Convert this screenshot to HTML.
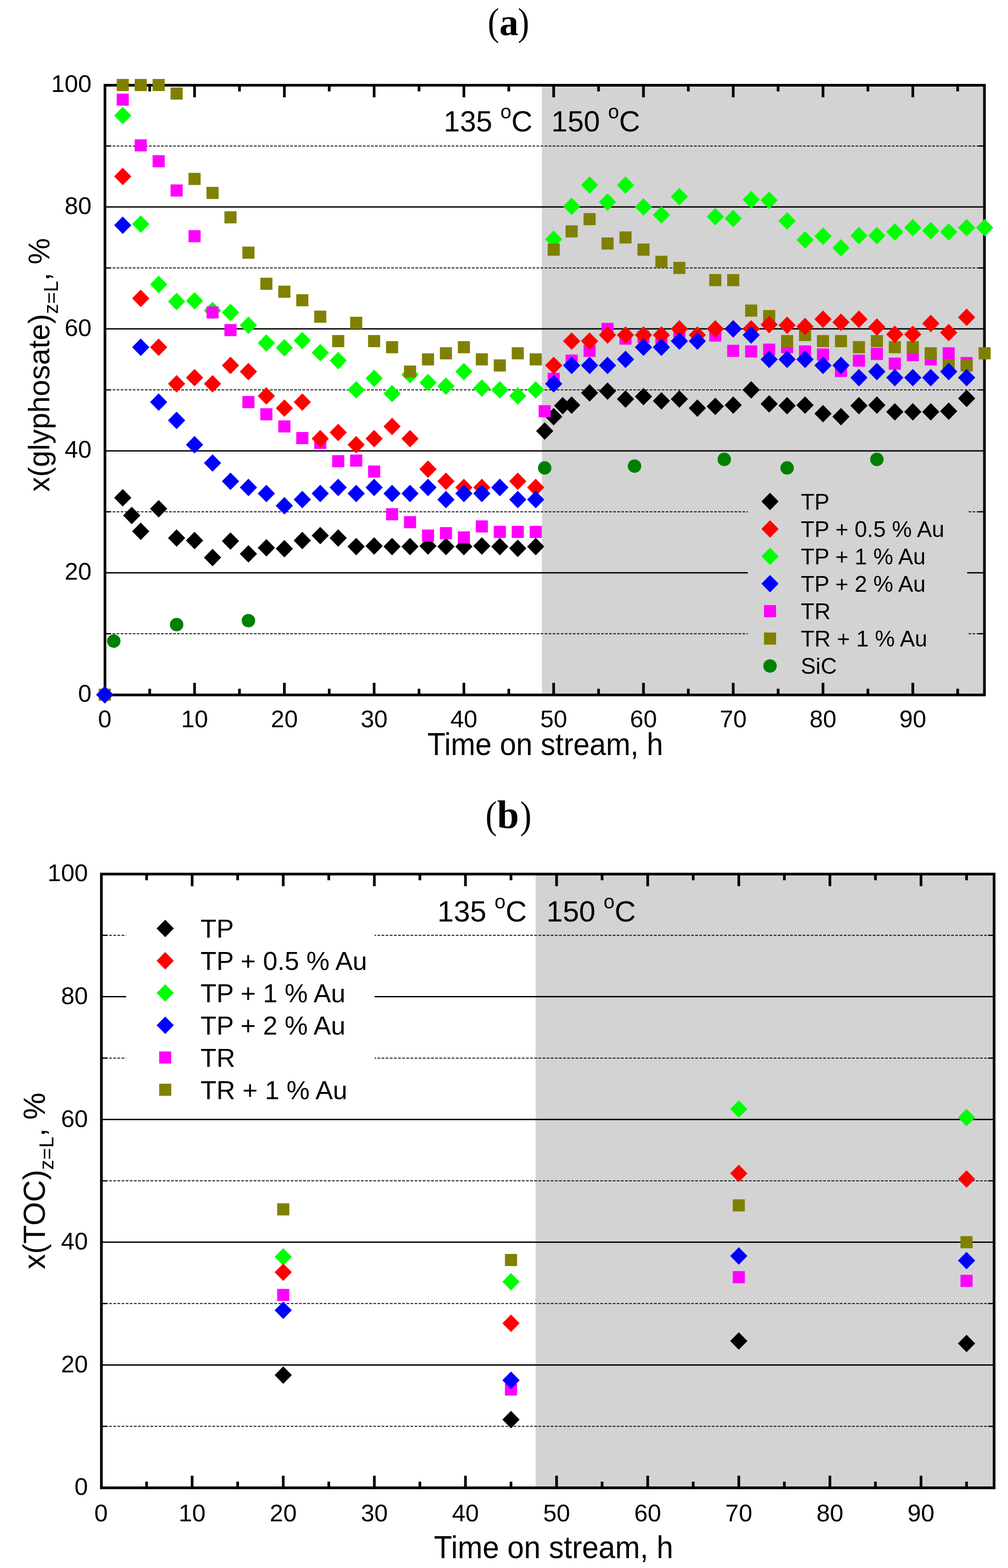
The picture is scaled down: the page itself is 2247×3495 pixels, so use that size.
<!DOCTYPE html>
<html><head><meta charset="utf-8"><title>Figure</title>
<style>html,body{margin:0;padding:0;background:#fff;}svg{display:block;}</style>
</head><body>
<svg width="2247" height="3495" viewBox="0 0 2247 3495" font-family='"Liberation Sans", Arial, Helvetica, sans-serif'>
<rect width="2247" height="3495" fill="#fff"/>
<g font-family='"Liberation Serif", "Times New Roman", serif' font-size="87" text-anchor="middle"><text transform="translate(1100,78) scale(0.88,1)">(</text><text x="1134.4" y="78" font-weight="bold" font-size="85">a</text><text transform="translate(1167,78) scale(0.88,1)">)</text></g>
<g font-family='"Liberation Serif", "Times New Roman", serif' font-size="87" text-anchor="middle"><text transform="translate(1095,1845.5) scale(0.88,1)">(</text><text x="1132.5" y="1845.5" font-weight="bold" font-size="88">b</text><text transform="translate(1172,1845.5) scale(0.88,1)">)</text></g>
<rect x="1208" y="190" width="986.5" height="1359" fill="#d3d3d3"/>
<line x1="233" y1="1412.6" x2="2194.5" y2="1412.6" stroke="#000" stroke-width="2" stroke-dasharray="6 3"/>
<line x1="234" y1="1412.6" x2="247.5" y2="1412.6" stroke="#000" stroke-width="2.8"/>
<line x1="2181.0" y1="1412.6" x2="2194.5" y2="1412.6" stroke="#000" stroke-width="2.8"/>
<line x1="234" y1="1276.7" x2="2194.5" y2="1276.7" stroke="#000" stroke-width="3"/>
<line x1="233" y1="1140.8" x2="2194.5" y2="1140.8" stroke="#000" stroke-width="2" stroke-dasharray="6 3"/>
<line x1="234" y1="1140.8" x2="247.5" y2="1140.8" stroke="#000" stroke-width="2.8"/>
<line x1="2181.0" y1="1140.8" x2="2194.5" y2="1140.8" stroke="#000" stroke-width="2.8"/>
<line x1="234" y1="1004.9" x2="2194.5" y2="1004.9" stroke="#000" stroke-width="3"/>
<line x1="233" y1="869.0" x2="2194.5" y2="869.0" stroke="#000" stroke-width="2" stroke-dasharray="6 3"/>
<line x1="234" y1="869.0" x2="247.5" y2="869.0" stroke="#000" stroke-width="2.8"/>
<line x1="2181.0" y1="869.0" x2="2194.5" y2="869.0" stroke="#000" stroke-width="2.8"/>
<line x1="234" y1="733.1" x2="2194.5" y2="733.1" stroke="#000" stroke-width="3"/>
<line x1="233" y1="597.2" x2="2194.5" y2="597.2" stroke="#000" stroke-width="2" stroke-dasharray="6 3"/>
<line x1="234" y1="597.2" x2="247.5" y2="597.2" stroke="#000" stroke-width="2.8"/>
<line x1="2181.0" y1="597.2" x2="2194.5" y2="597.2" stroke="#000" stroke-width="2.8"/>
<line x1="234" y1="461.3" x2="2194.5" y2="461.3" stroke="#000" stroke-width="3"/>
<line x1="233" y1="325.4" x2="2194.5" y2="325.4" stroke="#000" stroke-width="2" stroke-dasharray="6 3"/>
<line x1="234" y1="325.4" x2="247.5" y2="325.4" stroke="#000" stroke-width="2.8"/>
<line x1="2181.0" y1="325.4" x2="2194.5" y2="325.4" stroke="#000" stroke-width="2.8"/>
<rect x="1667" y="1075" width="489" height="445" fill="#d3d3d3"/>
<line x1="333.7" y1="190" x2="333.7" y2="203.8" stroke="#000" stroke-width="6"/>
<line x1="333.7" y1="1549" x2="333.7" y2="1535.2" stroke="#000" stroke-width="6"/>
<line x1="433.7" y1="190" x2="433.7" y2="217" stroke="#000" stroke-width="6"/>
<line x1="433.7" y1="1549" x2="433.7" y2="1522" stroke="#000" stroke-width="6"/>
<line x1="533.8" y1="190" x2="533.8" y2="203.8" stroke="#000" stroke-width="6"/>
<line x1="533.8" y1="1549" x2="533.8" y2="1535.2" stroke="#000" stroke-width="6"/>
<line x1="633.9" y1="190" x2="633.9" y2="217" stroke="#000" stroke-width="6"/>
<line x1="633.9" y1="1549" x2="633.9" y2="1522" stroke="#000" stroke-width="6"/>
<line x1="733.9" y1="190" x2="733.9" y2="203.8" stroke="#000" stroke-width="6"/>
<line x1="733.9" y1="1549" x2="733.9" y2="1535.2" stroke="#000" stroke-width="6"/>
<line x1="834.0" y1="190" x2="834.0" y2="217" stroke="#000" stroke-width="6"/>
<line x1="834.0" y1="1549" x2="834.0" y2="1522" stroke="#000" stroke-width="6"/>
<line x1="934.1" y1="190" x2="934.1" y2="203.8" stroke="#000" stroke-width="6"/>
<line x1="934.1" y1="1549" x2="934.1" y2="1535.2" stroke="#000" stroke-width="6"/>
<line x1="1034.1" y1="190" x2="1034.1" y2="217" stroke="#000" stroke-width="6"/>
<line x1="1034.1" y1="1549" x2="1034.1" y2="1522" stroke="#000" stroke-width="6"/>
<line x1="1134.2" y1="190" x2="1134.2" y2="203.8" stroke="#000" stroke-width="6"/>
<line x1="1134.2" y1="1549" x2="1134.2" y2="1535.2" stroke="#000" stroke-width="6"/>
<line x1="1234.2" y1="190" x2="1234.2" y2="217" stroke="#000" stroke-width="6"/>
<line x1="1234.2" y1="1549" x2="1234.2" y2="1522" stroke="#000" stroke-width="6"/>
<line x1="1334.3" y1="190" x2="1334.3" y2="203.8" stroke="#000" stroke-width="6"/>
<line x1="1334.3" y1="1549" x2="1334.3" y2="1535.2" stroke="#000" stroke-width="6"/>
<line x1="1434.4" y1="190" x2="1434.4" y2="217" stroke="#000" stroke-width="6"/>
<line x1="1434.4" y1="1549" x2="1434.4" y2="1522" stroke="#000" stroke-width="6"/>
<line x1="1534.4" y1="190" x2="1534.4" y2="203.8" stroke="#000" stroke-width="6"/>
<line x1="1534.4" y1="1549" x2="1534.4" y2="1535.2" stroke="#000" stroke-width="6"/>
<line x1="1634.5" y1="190" x2="1634.5" y2="217" stroke="#000" stroke-width="6"/>
<line x1="1634.5" y1="1549" x2="1634.5" y2="1522" stroke="#000" stroke-width="6"/>
<line x1="1734.6" y1="190" x2="1734.6" y2="203.8" stroke="#000" stroke-width="6"/>
<line x1="1734.6" y1="1549" x2="1734.6" y2="1535.2" stroke="#000" stroke-width="6"/>
<line x1="1834.6" y1="190" x2="1834.6" y2="217" stroke="#000" stroke-width="6"/>
<line x1="1834.6" y1="1549" x2="1834.6" y2="1522" stroke="#000" stroke-width="6"/>
<line x1="1934.7" y1="190" x2="1934.7" y2="203.8" stroke="#000" stroke-width="6"/>
<line x1="1934.7" y1="1549" x2="1934.7" y2="1535.2" stroke="#000" stroke-width="6"/>
<line x1="2034.8" y1="190" x2="2034.8" y2="217" stroke="#000" stroke-width="6"/>
<line x1="2034.8" y1="1549" x2="2034.8" y2="1522" stroke="#000" stroke-width="6"/>
<line x1="2134.8" y1="190" x2="2134.8" y2="203.8" stroke="#000" stroke-width="6"/>
<line x1="2134.8" y1="1549" x2="2134.8" y2="1535.2" stroke="#000" stroke-width="6"/>
<rect x="234" y="190" width="1960.5" height="1359" fill="none" stroke="#000" stroke-width="6"/>
<path d="M233.6 1529.0L252.8 1548.5L233.6 1568.0L214.4 1548.5Z" fill="#000000"/>
<path d="M273.6 1090.0L292.8 1109.5L273.6 1129.0L254.4 1109.5Z" fill="#000000"/>
<path d="M293.6 1129.5L312.8 1149.0L293.6 1168.5L274.4 1149.0Z" fill="#000000"/>
<path d="M313.7 1164.8L332.9 1184.3L313.7 1203.8L294.5 1184.3Z" fill="#000000"/>
<path d="M353.7 1114.5L372.9 1134.0L353.7 1153.5L334.5 1134.0Z" fill="#000000"/>
<path d="M393.7 1179.7L412.9 1199.2L393.7 1218.7L374.5 1199.2Z" fill="#000000"/>
<path d="M433.7 1185.2L452.9 1204.7L433.7 1224.2L414.5 1204.7Z" fill="#000000"/>
<path d="M473.8 1223.2L493.0 1242.7L473.8 1262.2L454.6 1242.7Z" fill="#000000"/>
<path d="M513.8 1186.5L533.0 1206.0L513.8 1225.5L494.6 1206.0Z" fill="#000000"/>
<path d="M553.8 1215.1L573.0 1234.6L553.8 1254.1L534.6 1234.6Z" fill="#000000"/>
<path d="M593.8 1201.5L613.0 1221.0L593.8 1240.5L574.6 1221.0Z" fill="#000000"/>
<path d="M633.9 1203.5L653.1 1223.0L633.9 1242.5L614.7 1223.0Z" fill="#000000"/>
<path d="M673.9 1185.2L693.1 1204.7L673.9 1224.2L654.7 1204.7Z" fill="#000000"/>
<path d="M713.9 1174.3L733.1 1193.8L713.9 1213.3L694.7 1193.8Z" fill="#000000"/>
<path d="M753.9 1179.7L773.1 1199.2L753.9 1218.7L734.7 1199.2Z" fill="#000000"/>
<path d="M794.0 1198.8L813.2 1218.3L794.0 1237.8L774.8 1218.3Z" fill="#000000"/>
<path d="M834.0 1197.4L853.2 1216.9L834.0 1236.4L814.8 1216.9Z" fill="#000000"/>
<path d="M874.0 1198.8L893.2 1218.3L874.0 1237.8L854.8 1218.3Z" fill="#000000"/>
<path d="M914.0 1198.8L933.2 1218.3L914.0 1237.8L894.8 1218.3Z" fill="#000000"/>
<path d="M954.1 1197.4L973.3 1216.9L954.1 1236.4L934.9 1216.9Z" fill="#000000"/>
<path d="M994.1 1198.8L1013.3 1218.3L994.1 1237.8L974.9 1218.3Z" fill="#000000"/>
<path d="M1034.1 1198.8L1053.3 1218.3L1034.1 1237.8L1014.9 1218.3Z" fill="#000000"/>
<path d="M1074.1 1197.4L1093.3 1216.9L1074.1 1236.4L1054.9 1216.9Z" fill="#000000"/>
<path d="M1114.2 1198.8L1133.4 1218.3L1114.2 1237.8L1095.0 1218.3Z" fill="#000000"/>
<path d="M1154.2 1202.8L1173.4 1222.3L1154.2 1241.8L1135.0 1222.3Z" fill="#000000"/>
<path d="M1194.2 1198.8L1213.4 1218.3L1194.2 1237.8L1175.0 1218.3Z" fill="#000000"/>
<path d="M1214.2 941.2L1233.4 960.7L1214.2 980.2L1195.0 960.7Z" fill="#000000"/>
<path d="M1234.2 909.3L1253.5 928.8L1234.2 948.3L1215.0 928.8Z" fill="#000000"/>
<path d="M1254.3 884.8L1273.5 904.3L1254.3 923.8L1235.1 904.3Z" fill="#000000"/>
<path d="M1274.3 883.5L1293.5 903.0L1274.3 922.5L1255.1 903.0Z" fill="#000000"/>
<path d="M1314.3 856.3L1333.5 875.8L1314.3 895.3L1295.1 875.8Z" fill="#000000"/>
<path d="M1354.3 852.2L1373.5 871.7L1354.3 891.2L1335.1 871.7Z" fill="#000000"/>
<path d="M1394.4 869.9L1413.6 889.4L1394.4 908.9L1375.2 889.4Z" fill="#000000"/>
<path d="M1434.4 864.4L1453.6 883.9L1434.4 903.4L1415.2 883.9Z" fill="#000000"/>
<path d="M1474.4 874.0L1493.6 893.5L1474.4 913.0L1455.2 893.5Z" fill="#000000"/>
<path d="M1514.4 869.9L1533.6 889.4L1514.4 908.9L1495.2 889.4Z" fill="#000000"/>
<path d="M1554.5 890.3L1573.7 909.8L1554.5 929.3L1535.3 909.8Z" fill="#000000"/>
<path d="M1594.5 886.2L1613.7 905.7L1594.5 925.2L1575.3 905.7Z" fill="#000000"/>
<path d="M1634.5 883.5L1653.7 903.0L1634.5 922.5L1615.3 903.0Z" fill="#000000"/>
<path d="M1674.5 849.5L1693.7 869.0L1674.5 888.5L1655.3 869.0Z" fill="#000000"/>
<path d="M1714.6 880.8L1733.8 900.3L1714.6 919.8L1695.4 900.3Z" fill="#000000"/>
<path d="M1754.6 884.8L1773.8 904.3L1754.6 923.8L1735.4 904.3Z" fill="#000000"/>
<path d="M1794.6 883.5L1813.8 903.0L1794.6 922.5L1775.4 903.0Z" fill="#000000"/>
<path d="M1834.6 902.5L1853.8 922.0L1834.6 941.5L1815.4 922.0Z" fill="#000000"/>
<path d="M1874.7 909.3L1893.9 928.8L1874.7 948.3L1855.5 928.8Z" fill="#000000"/>
<path d="M1914.7 884.8L1933.9 904.3L1914.7 923.8L1895.5 904.3Z" fill="#000000"/>
<path d="M1954.7 883.5L1973.9 903.0L1954.7 922.5L1935.5 903.0Z" fill="#000000"/>
<path d="M1994.7 898.4L2013.9 917.9L1994.7 937.4L1975.5 917.9Z" fill="#000000"/>
<path d="M2034.8 898.4L2054.0 917.9L2034.8 937.4L2015.6 917.9Z" fill="#000000"/>
<path d="M2074.8 898.4L2094.0 917.9L2074.8 937.4L2055.6 917.9Z" fill="#000000"/>
<path d="M2114.8 897.1L2134.0 916.6L2114.8 936.1L2095.6 916.6Z" fill="#000000"/>
<path d="M2154.8 868.5L2174.0 888.0L2154.8 907.5L2135.6 888.0Z" fill="#000000"/>
<path d="M233.6 1529.0L252.8 1548.5L233.6 1568.0L214.4 1548.5Z" fill="#00ff00"/>
<path d="M273.6 238.0L292.8 257.5L273.6 277.0L254.4 257.5Z" fill="#00ff00"/>
<path d="M313.7 479.9L332.9 499.4L313.7 518.9L294.5 499.4Z" fill="#00ff00"/>
<path d="M353.7 614.4L372.9 633.9L353.7 653.4L334.5 633.9Z" fill="#00ff00"/>
<path d="M393.7 652.4L412.9 671.9L393.7 691.4L374.5 671.9Z" fill="#00ff00"/>
<path d="M433.7 651.1L452.9 670.6L433.7 690.1L414.5 670.6Z" fill="#00ff00"/>
<path d="M473.8 672.8L493.0 692.3L473.8 711.8L454.6 692.3Z" fill="#00ff00"/>
<path d="M513.8 676.9L533.0 696.4L513.8 715.9L494.6 696.4Z" fill="#00ff00"/>
<path d="M553.8 705.4L573.0 724.9L553.8 744.4L534.6 724.9Z" fill="#00ff00"/>
<path d="M593.8 744.9L613.0 764.4L593.8 783.9L574.6 764.4Z" fill="#00ff00"/>
<path d="M633.9 755.7L653.1 775.2L633.9 794.7L614.7 775.2Z" fill="#00ff00"/>
<path d="M673.9 739.4L693.1 758.9L673.9 778.4L654.7 758.9Z" fill="#00ff00"/>
<path d="M713.9 766.6L733.1 786.1L713.9 805.6L694.7 786.1Z" fill="#00ff00"/>
<path d="M753.9 784.3L773.1 803.8L753.9 823.3L734.7 803.8Z" fill="#00ff00"/>
<path d="M794.0 849.5L813.2 869.0L794.0 888.5L774.8 869.0Z" fill="#00ff00"/>
<path d="M834.0 823.7L853.2 843.2L834.0 862.7L814.8 843.2Z" fill="#00ff00"/>
<path d="M874.0 857.7L893.2 877.2L874.0 896.7L854.8 877.2Z" fill="#00ff00"/>
<path d="M914.0 815.5L933.2 835.0L914.0 854.5L894.8 835.0Z" fill="#00ff00"/>
<path d="M954.1 833.2L973.3 852.7L954.1 872.2L934.9 852.7Z" fill="#00ff00"/>
<path d="M994.1 841.3L1013.3 860.8L994.1 880.3L974.9 860.8Z" fill="#00ff00"/>
<path d="M1034.1 808.7L1053.3 828.2L1034.1 847.7L1014.9 828.2Z" fill="#00ff00"/>
<path d="M1074.1 845.4L1093.3 864.9L1074.1 884.4L1054.9 864.9Z" fill="#00ff00"/>
<path d="M1114.2 849.5L1133.4 869.0L1114.2 888.5L1095.0 869.0Z" fill="#00ff00"/>
<path d="M1154.2 863.1L1173.4 882.6L1154.2 902.1L1135.0 882.6Z" fill="#00ff00"/>
<path d="M1194.2 849.5L1213.4 869.0L1194.2 888.5L1175.0 869.0Z" fill="#00ff00"/>
<path d="M1234.2 513.8L1253.5 533.3L1234.2 552.8L1215.0 533.3Z" fill="#00ff00"/>
<path d="M1274.3 440.4L1293.5 459.9L1274.3 479.4L1255.1 459.9Z" fill="#00ff00"/>
<path d="M1314.3 392.9L1333.5 412.4L1314.3 431.9L1295.1 412.4Z" fill="#00ff00"/>
<path d="M1354.3 430.9L1373.5 450.4L1354.3 469.9L1335.1 450.4Z" fill="#00ff00"/>
<path d="M1394.4 392.9L1413.6 412.4L1394.4 431.9L1375.2 412.4Z" fill="#00ff00"/>
<path d="M1434.4 441.8L1453.6 461.3L1434.4 480.8L1415.2 461.3Z" fill="#00ff00"/>
<path d="M1474.4 459.5L1493.6 479.0L1474.4 498.5L1455.2 479.0Z" fill="#00ff00"/>
<path d="M1514.4 418.7L1533.6 438.2L1514.4 457.7L1495.2 438.2Z" fill="#00ff00"/>
<path d="M1594.5 463.5L1613.7 483.0L1594.5 502.5L1575.3 483.0Z" fill="#00ff00"/>
<path d="M1634.5 467.6L1653.7 487.1L1634.5 506.6L1615.3 487.1Z" fill="#00ff00"/>
<path d="M1674.5 425.5L1693.7 445.0L1674.5 464.5L1655.3 445.0Z" fill="#00ff00"/>
<path d="M1714.6 426.9L1733.8 446.4L1714.6 465.9L1695.4 446.4Z" fill="#00ff00"/>
<path d="M1754.6 473.1L1773.8 492.6L1754.6 512.1L1735.4 492.6Z" fill="#00ff00"/>
<path d="M1794.6 515.2L1813.8 534.7L1794.6 554.2L1775.4 534.7Z" fill="#00ff00"/>
<path d="M1834.6 507.0L1853.8 526.5L1834.6 546.0L1815.4 526.5Z" fill="#00ff00"/>
<path d="M1874.7 532.9L1893.9 552.4L1874.7 571.9L1855.5 552.4Z" fill="#00ff00"/>
<path d="M1914.7 505.7L1933.9 525.2L1914.7 544.7L1895.5 525.2Z" fill="#00ff00"/>
<path d="M1954.7 505.7L1973.9 525.2L1954.7 544.7L1935.5 525.2Z" fill="#00ff00"/>
<path d="M1994.7 497.5L2013.9 517.0L1994.7 536.5L1975.5 517.0Z" fill="#00ff00"/>
<path d="M2034.8 488.0L2054.0 507.5L2034.8 527.0L2015.6 507.5Z" fill="#00ff00"/>
<path d="M2074.8 494.8L2094.0 514.3L2074.8 533.8L2055.6 514.3Z" fill="#00ff00"/>
<path d="M2114.8 497.5L2134.0 517.0L2114.8 536.5L2095.6 517.0Z" fill="#00ff00"/>
<path d="M2154.8 488.0L2174.0 507.5L2154.8 527.0L2135.6 507.5Z" fill="#00ff00"/>
<path d="M2194.9 488.0L2214.1 507.5L2194.9 527.0L2175.7 507.5Z" fill="#00ff00"/>
<rect x="220.1" y="1535.0" width="27.0" height="27.0" fill="#ff00ff"/>
<rect x="260.1" y="208.6" width="27.0" height="27.0" fill="#ff00ff"/>
<rect x="300.2" y="310.5" width="27.0" height="27.0" fill="#ff00ff"/>
<rect x="340.2" y="345.9" width="27.0" height="27.0" fill="#ff00ff"/>
<rect x="380.2" y="411.1" width="27.0" height="27.0" fill="#ff00ff"/>
<rect x="420.2" y="513.0" width="27.0" height="27.0" fill="#ff00ff"/>
<rect x="460.3" y="682.9" width="27.0" height="27.0" fill="#ff00ff"/>
<rect x="500.3" y="722.3" width="27.0" height="27.0" fill="#ff00ff"/>
<rect x="540.3" y="882.7" width="27.0" height="27.0" fill="#ff00ff"/>
<rect x="580.3" y="909.9" width="27.0" height="27.0" fill="#ff00ff"/>
<rect x="620.4" y="937.0" width="27.0" height="27.0" fill="#ff00ff"/>
<rect x="660.4" y="962.9" width="27.0" height="27.0" fill="#ff00ff"/>
<rect x="700.4" y="973.7" width="27.0" height="27.0" fill="#ff00ff"/>
<rect x="740.4" y="1014.5" width="27.0" height="27.0" fill="#ff00ff"/>
<rect x="780.5" y="1013.1" width="27.0" height="27.0" fill="#ff00ff"/>
<rect x="820.5" y="1037.6" width="27.0" height="27.0" fill="#ff00ff"/>
<rect x="860.5" y="1132.7" width="27.0" height="27.0" fill="#ff00ff"/>
<rect x="900.5" y="1150.4" width="27.0" height="27.0" fill="#ff00ff"/>
<rect x="940.6" y="1180.3" width="27.0" height="27.0" fill="#ff00ff"/>
<rect x="980.6" y="1174.9" width="27.0" height="27.0" fill="#ff00ff"/>
<rect x="1020.6" y="1184.4" width="27.0" height="27.0" fill="#ff00ff"/>
<rect x="1060.6" y="1159.9" width="27.0" height="27.0" fill="#ff00ff"/>
<rect x="1100.7" y="1172.1" width="27.0" height="27.0" fill="#ff00ff"/>
<rect x="1140.7" y="1172.1" width="27.0" height="27.0" fill="#ff00ff"/>
<rect x="1180.7" y="1172.1" width="27.0" height="27.0" fill="#ff00ff"/>
<rect x="1200.7" y="903.1" width="27.0" height="27.0" fill="#ff00ff"/>
<rect x="1220.8" y="831.0" width="27.0" height="27.0" fill="#ff00ff"/>
<rect x="1260.8" y="790.3" width="27.0" height="27.0" fill="#ff00ff"/>
<rect x="1300.8" y="768.5" width="27.0" height="27.0" fill="#ff00ff"/>
<rect x="1340.8" y="719.6" width="27.0" height="27.0" fill="#ff00ff"/>
<rect x="1380.9" y="741.3" width="27.0" height="27.0" fill="#ff00ff"/>
<rect x="1420.9" y="737.3" width="27.0" height="27.0" fill="#ff00ff"/>
<rect x="1460.9" y="740.0" width="27.0" height="27.0" fill="#ff00ff"/>
<rect x="1500.9" y="731.8" width="27.0" height="27.0" fill="#ff00ff"/>
<rect x="1581.0" y="734.5" width="27.0" height="27.0" fill="#ff00ff"/>
<rect x="1621.0" y="768.5" width="27.0" height="27.0" fill="#ff00ff"/>
<rect x="1661.0" y="769.9" width="27.0" height="27.0" fill="#ff00ff"/>
<rect x="1701.1" y="765.8" width="27.0" height="27.0" fill="#ff00ff"/>
<rect x="1741.1" y="760.4" width="27.0" height="27.0" fill="#ff00ff"/>
<rect x="1781.1" y="769.9" width="27.0" height="27.0" fill="#ff00ff"/>
<rect x="1821.1" y="776.7" width="27.0" height="27.0" fill="#ff00ff"/>
<rect x="1861.2" y="813.4" width="27.0" height="27.0" fill="#ff00ff"/>
<rect x="1901.2" y="790.3" width="27.0" height="27.0" fill="#ff00ff"/>
<rect x="1941.2" y="775.3" width="27.0" height="27.0" fill="#ff00ff"/>
<rect x="1981.2" y="797.1" width="27.0" height="27.0" fill="#ff00ff"/>
<rect x="2021.3" y="778.0" width="27.0" height="27.0" fill="#ff00ff"/>
<rect x="2061.3" y="787.5" width="27.0" height="27.0" fill="#ff00ff"/>
<rect x="2101.3" y="774.0" width="27.0" height="27.0" fill="#ff00ff"/>
<rect x="2141.3" y="795.7" width="27.0" height="27.0" fill="#ff00ff"/>
<rect x="220.1" y="1535.0" width="27.0" height="27.0" fill="#808000"/>
<rect x="260.1" y="176.0" width="27.0" height="27.0" fill="#808000"/>
<rect x="300.2" y="176.0" width="27.0" height="27.0" fill="#808000"/>
<rect x="340.2" y="176.0" width="27.0" height="27.0" fill="#808000"/>
<rect x="380.2" y="195.0" width="27.0" height="27.0" fill="#808000"/>
<rect x="420.2" y="385.3" width="27.0" height="27.0" fill="#808000"/>
<rect x="460.3" y="416.5" width="27.0" height="27.0" fill="#808000"/>
<rect x="500.3" y="470.9" width="27.0" height="27.0" fill="#808000"/>
<rect x="540.3" y="549.7" width="27.0" height="27.0" fill="#808000"/>
<rect x="580.3" y="619.0" width="27.0" height="27.0" fill="#808000"/>
<rect x="620.4" y="636.7" width="27.0" height="27.0" fill="#808000"/>
<rect x="660.4" y="655.7" width="27.0" height="27.0" fill="#808000"/>
<rect x="700.4" y="692.4" width="27.0" height="27.0" fill="#808000"/>
<rect x="740.4" y="746.8" width="27.0" height="27.0" fill="#808000"/>
<rect x="780.5" y="706.0" width="27.0" height="27.0" fill="#808000"/>
<rect x="820.5" y="746.8" width="27.0" height="27.0" fill="#808000"/>
<rect x="860.5" y="760.4" width="27.0" height="27.0" fill="#808000"/>
<rect x="900.5" y="814.7" width="27.0" height="27.0" fill="#808000"/>
<rect x="940.6" y="787.5" width="27.0" height="27.0" fill="#808000"/>
<rect x="980.6" y="774.0" width="27.0" height="27.0" fill="#808000"/>
<rect x="1020.6" y="760.4" width="27.0" height="27.0" fill="#808000"/>
<rect x="1060.6" y="787.5" width="27.0" height="27.0" fill="#808000"/>
<rect x="1100.7" y="801.1" width="27.0" height="27.0" fill="#808000"/>
<rect x="1140.7" y="774.0" width="27.0" height="27.0" fill="#808000"/>
<rect x="1180.7" y="787.5" width="27.0" height="27.0" fill="#808000"/>
<rect x="1220.8" y="542.9" width="27.0" height="27.0" fill="#808000"/>
<rect x="1260.8" y="502.2" width="27.0" height="27.0" fill="#808000"/>
<rect x="1300.8" y="475.0" width="27.0" height="27.0" fill="#808000"/>
<rect x="1340.8" y="529.3" width="27.0" height="27.0" fill="#808000"/>
<rect x="1380.9" y="515.8" width="27.0" height="27.0" fill="#808000"/>
<rect x="1420.9" y="542.9" width="27.0" height="27.0" fill="#808000"/>
<rect x="1460.9" y="570.1" width="27.0" height="27.0" fill="#808000"/>
<rect x="1500.9" y="583.7" width="27.0" height="27.0" fill="#808000"/>
<rect x="1581.0" y="610.9" width="27.0" height="27.0" fill="#808000"/>
<rect x="1621.0" y="610.9" width="27.0" height="27.0" fill="#808000"/>
<rect x="1661.0" y="678.8" width="27.0" height="27.0" fill="#808000"/>
<rect x="1701.1" y="691.1" width="27.0" height="27.0" fill="#808000"/>
<rect x="1741.1" y="746.8" width="27.0" height="27.0" fill="#808000"/>
<rect x="1781.1" y="733.2" width="27.0" height="27.0" fill="#808000"/>
<rect x="1821.1" y="746.8" width="27.0" height="27.0" fill="#808000"/>
<rect x="1861.2" y="746.8" width="27.0" height="27.0" fill="#808000"/>
<rect x="1901.2" y="760.4" width="27.0" height="27.0" fill="#808000"/>
<rect x="1941.2" y="746.8" width="27.0" height="27.0" fill="#808000"/>
<rect x="1981.2" y="760.4" width="27.0" height="27.0" fill="#808000"/>
<rect x="2021.3" y="760.4" width="27.0" height="27.0" fill="#808000"/>
<rect x="2061.3" y="774.0" width="27.0" height="27.0" fill="#808000"/>
<rect x="2101.3" y="801.1" width="27.0" height="27.0" fill="#808000"/>
<rect x="2141.3" y="801.1" width="27.0" height="27.0" fill="#808000"/>
<rect x="2181.4" y="774.0" width="27.0" height="27.0" fill="#808000"/>
<path d="M233.6 1529.0L252.8 1548.5L233.6 1568.0L214.4 1548.5Z" fill="#ff0000"/>
<path d="M273.6 373.8L292.8 393.3L273.6 412.8L254.4 393.3Z" fill="#ff0000"/>
<path d="M313.7 645.6L332.9 665.1L313.7 684.6L294.5 665.1Z" fill="#ff0000"/>
<path d="M353.7 754.4L372.9 773.9L353.7 793.4L334.5 773.9Z" fill="#ff0000"/>
<path d="M393.7 835.9L412.9 855.4L393.7 874.9L374.5 855.4Z" fill="#ff0000"/>
<path d="M433.7 822.3L452.9 841.8L433.7 861.3L414.5 841.8Z" fill="#ff0000"/>
<path d="M473.8 835.9L493.0 855.4L473.8 874.9L454.6 855.4Z" fill="#ff0000"/>
<path d="M513.8 795.1L533.0 814.6L513.8 834.1L494.6 814.6Z" fill="#ff0000"/>
<path d="M553.8 808.7L573.0 828.2L553.8 847.7L534.6 828.2Z" fill="#ff0000"/>
<path d="M593.8 863.1L613.0 882.6L593.8 902.1L574.6 882.6Z" fill="#ff0000"/>
<path d="M633.9 890.3L653.1 909.8L633.9 929.3L614.7 909.8Z" fill="#ff0000"/>
<path d="M673.9 876.7L693.1 896.2L673.9 915.7L654.7 896.2Z" fill="#ff0000"/>
<path d="M713.9 958.2L733.1 977.7L713.9 997.2L694.7 977.7Z" fill="#ff0000"/>
<path d="M753.9 944.6L773.1 964.1L753.9 983.6L734.7 964.1Z" fill="#ff0000"/>
<path d="M794.0 971.8L813.2 991.3L794.0 1010.8L774.8 991.3Z" fill="#ff0000"/>
<path d="M834.0 958.2L853.2 977.7L834.0 997.2L814.8 977.7Z" fill="#ff0000"/>
<path d="M874.0 931.0L893.2 950.5L874.0 970.0L854.8 950.5Z" fill="#ff0000"/>
<path d="M914.0 958.2L933.2 977.7L914.0 997.2L894.8 977.7Z" fill="#ff0000"/>
<path d="M954.1 1026.2L973.3 1045.7L954.1 1065.2L934.9 1045.7Z" fill="#ff0000"/>
<path d="M994.1 1053.3L1013.3 1072.8L994.1 1092.3L974.9 1072.8Z" fill="#ff0000"/>
<path d="M1034.1 1066.9L1053.3 1086.4L1034.1 1105.9L1014.9 1086.4Z" fill="#ff0000"/>
<path d="M1074.1 1066.9L1093.3 1086.4L1074.1 1105.9L1054.9 1086.4Z" fill="#ff0000"/>
<path d="M1114.2 1066.9L1133.4 1086.4L1114.2 1105.9L1095.0 1086.4Z" fill="#ff0000"/>
<path d="M1154.2 1053.3L1173.4 1072.8L1154.2 1092.3L1135.0 1072.8Z" fill="#ff0000"/>
<path d="M1194.2 1066.9L1213.4 1086.4L1194.2 1105.9L1175.0 1086.4Z" fill="#ff0000"/>
<path d="M1234.2 795.1L1253.5 814.6L1234.2 834.1L1215.0 814.6Z" fill="#ff0000"/>
<path d="M1274.3 740.8L1293.5 760.3L1274.3 779.8L1255.1 760.3Z" fill="#ff0000"/>
<path d="M1314.3 740.8L1333.5 760.3L1314.3 779.8L1295.1 760.3Z" fill="#ff0000"/>
<path d="M1354.3 727.2L1373.5 746.7L1354.3 766.2L1335.1 746.7Z" fill="#ff0000"/>
<path d="M1394.4 727.2L1413.6 746.7L1394.4 766.2L1375.2 746.7Z" fill="#ff0000"/>
<path d="M1434.4 727.2L1453.6 746.7L1434.4 766.2L1415.2 746.7Z" fill="#ff0000"/>
<path d="M1474.4 727.2L1493.6 746.7L1474.4 766.2L1455.2 746.7Z" fill="#ff0000"/>
<path d="M1514.4 713.6L1533.6 733.1L1514.4 752.6L1495.2 733.1Z" fill="#ff0000"/>
<path d="M1554.5 727.2L1573.7 746.7L1554.5 766.2L1535.3 746.7Z" fill="#ff0000"/>
<path d="M1594.5 713.6L1613.7 733.1L1594.5 752.6L1575.3 733.1Z" fill="#ff0000"/>
<path d="M1634.5 713.6L1653.7 733.1L1634.5 752.6L1615.3 733.1Z" fill="#ff0000"/>
<path d="M1674.5 713.6L1693.7 733.1L1674.5 752.6L1655.3 733.1Z" fill="#ff0000"/>
<path d="M1714.6 704.1L1733.8 723.6L1714.6 743.1L1695.4 723.6Z" fill="#ff0000"/>
<path d="M1754.6 705.4L1773.8 724.9L1754.6 744.4L1735.4 724.9Z" fill="#ff0000"/>
<path d="M1794.6 708.2L1813.8 727.7L1794.6 747.2L1775.4 727.7Z" fill="#ff0000"/>
<path d="M1834.6 691.9L1853.8 711.4L1834.6 730.9L1815.4 711.4Z" fill="#ff0000"/>
<path d="M1874.7 698.7L1893.9 718.2L1874.7 737.7L1855.5 718.2Z" fill="#ff0000"/>
<path d="M1914.7 691.9L1933.9 711.4L1914.7 730.9L1895.5 711.4Z" fill="#ff0000"/>
<path d="M1954.7 709.5L1973.9 729.0L1954.7 748.5L1935.5 729.0Z" fill="#ff0000"/>
<path d="M1994.7 725.8L2013.9 745.3L1994.7 764.8L1975.5 745.3Z" fill="#ff0000"/>
<path d="M2034.8 725.8L2054.0 745.3L2034.8 764.8L2015.6 745.3Z" fill="#ff0000"/>
<path d="M2074.8 701.4L2094.0 720.9L2074.8 740.4L2055.6 720.9Z" fill="#ff0000"/>
<path d="M2114.8 721.8L2134.0 741.3L2114.8 760.8L2095.6 741.3Z" fill="#ff0000"/>
<path d="M2154.8 687.8L2174.0 707.3L2154.8 726.8L2135.6 707.3Z" fill="#ff0000"/>
<path d="M233.6 1529.0L252.8 1548.5L233.6 1568.0L214.4 1548.5Z" fill="#0000ff"/>
<path d="M273.6 482.6L292.8 502.1L273.6 521.6L254.4 502.1Z" fill="#0000ff"/>
<path d="M313.7 754.4L332.9 773.9L313.7 793.4L294.5 773.9Z" fill="#0000ff"/>
<path d="M353.7 876.7L372.9 896.2L353.7 915.7L334.5 896.2Z" fill="#0000ff"/>
<path d="M393.7 917.5L412.9 937.0L393.7 956.5L374.5 937.0Z" fill="#0000ff"/>
<path d="M433.7 971.8L452.9 991.3L433.7 1010.8L414.5 991.3Z" fill="#0000ff"/>
<path d="M473.8 1012.6L493.0 1032.1L473.8 1051.6L454.6 1032.1Z" fill="#0000ff"/>
<path d="M513.8 1053.3L533.0 1072.8L513.8 1092.3L494.6 1072.8Z" fill="#0000ff"/>
<path d="M553.8 1066.9L573.0 1086.4L553.8 1105.9L534.6 1086.4Z" fill="#0000ff"/>
<path d="M593.8 1080.5L613.0 1100.0L593.8 1119.5L574.6 1100.0Z" fill="#0000ff"/>
<path d="M633.9 1107.7L653.1 1127.2L633.9 1146.7L614.7 1127.2Z" fill="#0000ff"/>
<path d="M673.9 1094.1L693.1 1113.6L673.9 1133.1L654.7 1113.6Z" fill="#0000ff"/>
<path d="M713.9 1080.5L733.1 1100.0L713.9 1119.5L694.7 1100.0Z" fill="#0000ff"/>
<path d="M753.9 1066.9L773.1 1086.4L753.9 1105.9L734.7 1086.4Z" fill="#0000ff"/>
<path d="M794.0 1080.5L813.2 1100.0L794.0 1119.5L774.8 1100.0Z" fill="#0000ff"/>
<path d="M834.0 1066.9L853.2 1086.4L834.0 1105.9L814.8 1086.4Z" fill="#0000ff"/>
<path d="M874.0 1080.5L893.2 1100.0L874.0 1119.5L854.8 1100.0Z" fill="#0000ff"/>
<path d="M914.0 1080.5L933.2 1100.0L914.0 1119.5L894.8 1100.0Z" fill="#0000ff"/>
<path d="M954.1 1066.9L973.3 1086.4L954.1 1105.9L934.9 1086.4Z" fill="#0000ff"/>
<path d="M994.1 1094.1L1013.3 1113.6L994.1 1133.1L974.9 1113.6Z" fill="#0000ff"/>
<path d="M1034.1 1080.5L1053.3 1100.0L1034.1 1119.5L1014.9 1100.0Z" fill="#0000ff"/>
<path d="M1074.1 1080.5L1093.3 1100.0L1074.1 1119.5L1054.9 1100.0Z" fill="#0000ff"/>
<path d="M1114.2 1066.9L1133.4 1086.4L1114.2 1105.9L1095.0 1086.4Z" fill="#0000ff"/>
<path d="M1154.2 1094.1L1173.4 1113.6L1154.2 1133.1L1135.0 1113.6Z" fill="#0000ff"/>
<path d="M1194.2 1094.1L1213.4 1113.6L1194.2 1133.1L1175.0 1113.6Z" fill="#0000ff"/>
<path d="M1234.2 835.9L1253.5 855.4L1234.2 874.9L1215.0 855.4Z" fill="#0000ff"/>
<path d="M1274.3 795.1L1293.5 814.6L1274.3 834.1L1255.1 814.6Z" fill="#0000ff"/>
<path d="M1314.3 795.1L1333.5 814.6L1314.3 834.1L1295.1 814.6Z" fill="#0000ff"/>
<path d="M1354.3 795.1L1373.5 814.6L1354.3 834.1L1335.1 814.6Z" fill="#0000ff"/>
<path d="M1394.4 781.5L1413.6 801.0L1394.4 820.5L1375.2 801.0Z" fill="#0000ff"/>
<path d="M1434.4 754.4L1453.6 773.9L1434.4 793.4L1415.2 773.9Z" fill="#0000ff"/>
<path d="M1474.4 754.4L1493.6 773.9L1474.4 793.4L1455.2 773.9Z" fill="#0000ff"/>
<path d="M1514.4 740.8L1533.6 760.3L1514.4 779.8L1495.2 760.3Z" fill="#0000ff"/>
<path d="M1554.5 740.8L1573.7 760.3L1554.5 779.8L1535.3 760.3Z" fill="#0000ff"/>
<path d="M1634.5 713.6L1653.7 733.1L1634.5 752.6L1615.3 733.1Z" fill="#0000ff"/>
<path d="M1674.5 727.2L1693.7 746.7L1674.5 766.2L1655.3 746.7Z" fill="#0000ff"/>
<path d="M1714.6 781.5L1733.8 801.0L1714.6 820.5L1695.4 801.0Z" fill="#0000ff"/>
<path d="M1754.6 781.5L1773.8 801.0L1754.6 820.5L1735.4 801.0Z" fill="#0000ff"/>
<path d="M1794.6 781.5L1813.8 801.0L1794.6 820.5L1775.4 801.0Z" fill="#0000ff"/>
<path d="M1834.6 795.1L1853.8 814.6L1834.6 834.1L1815.4 814.6Z" fill="#0000ff"/>
<path d="M1874.7 795.1L1893.9 814.6L1874.7 834.1L1855.5 814.6Z" fill="#0000ff"/>
<path d="M1914.7 822.3L1933.9 841.8L1914.7 861.3L1895.5 841.8Z" fill="#0000ff"/>
<path d="M1954.7 808.7L1973.9 828.2L1954.7 847.7L1935.5 828.2Z" fill="#0000ff"/>
<path d="M1994.7 822.3L2013.9 841.8L1994.7 861.3L1975.5 841.8Z" fill="#0000ff"/>
<path d="M2034.8 822.3L2054.0 841.8L2034.8 861.3L2015.6 841.8Z" fill="#0000ff"/>
<path d="M2074.8 822.3L2094.0 841.8L2074.8 861.3L2055.6 841.8Z" fill="#0000ff"/>
<path d="M2114.8 808.7L2134.0 828.2L2114.8 847.7L2095.6 828.2Z" fill="#0000ff"/>
<path d="M2154.8 822.3L2174.0 841.8L2154.8 861.3L2135.6 841.8Z" fill="#0000ff"/>
<circle cx="253.6" cy="1428.9" r="15.0" fill="#008000"/>
<circle cx="393.7" cy="1392.2" r="15.0" fill="#008000"/>
<circle cx="553.8" cy="1383.4" r="15.0" fill="#008000"/>
<circle cx="1214.2" cy="1043.0" r="15.0" fill="#008000"/>
<circle cx="1414.4" cy="1038.9" r="15.0" fill="#008000"/>
<circle cx="1614.5" cy="1023.9" r="15.0" fill="#008000"/>
<circle cx="1754.6" cy="1043.0" r="15.0" fill="#008000"/>
<circle cx="1954.7" cy="1023.9" r="15.0" fill="#008000"/>
<text x="204" y="1564.0" text-anchor="end" font-size="54">0</text>
<text x="204" y="1292.2" text-anchor="end" font-size="54">20</text>
<text x="204" y="1020.4" text-anchor="end" font-size="54">40</text>
<text x="204" y="748.6" text-anchor="end" font-size="54">60</text>
<text x="204" y="476.8" text-anchor="end" font-size="54">80</text>
<text x="204" y="205.0" text-anchor="end" font-size="54">100</text>
<text x="233.6" y="1621" text-anchor="middle" font-size="54">0</text>
<text x="433.7" y="1621" text-anchor="middle" font-size="54">10</text>
<text x="633.9" y="1621" text-anchor="middle" font-size="54">20</text>
<text x="834.0" y="1621" text-anchor="middle" font-size="54">30</text>
<text x="1034.1" y="1621" text-anchor="middle" font-size="54">40</text>
<text x="1234.2" y="1621" text-anchor="middle" font-size="54">50</text>
<text x="1434.4" y="1621" text-anchor="middle" font-size="54">60</text>
<text x="1634.5" y="1621" text-anchor="middle" font-size="54">70</text>
<text x="1834.6" y="1621" text-anchor="middle" font-size="54">80</text>
<text x="2034.8" y="1621" text-anchor="middle" font-size="54">90</text>
<rect x="1194" y="1948.3" width="1022" height="1368.0000000000002" fill="#d3d3d3"/>
<line x1="225" y1="3179.2" x2="2216" y2="3179.2" stroke="#000" stroke-width="2" stroke-dasharray="6 3.2"/>
<line x1="226" y1="3179.2" x2="239.5" y2="3179.2" stroke="#000" stroke-width="2.8"/>
<line x1="2202.5" y1="3179.2" x2="2216" y2="3179.2" stroke="#000" stroke-width="2.8"/>
<line x1="226" y1="3042.4" x2="2216" y2="3042.4" stroke="#000" stroke-width="3"/>
<line x1="225" y1="2905.6" x2="2216" y2="2905.6" stroke="#000" stroke-width="2" stroke-dasharray="6 3.2"/>
<line x1="226" y1="2905.6" x2="239.5" y2="2905.6" stroke="#000" stroke-width="2.8"/>
<line x1="2202.5" y1="2905.6" x2="2216" y2="2905.6" stroke="#000" stroke-width="2.8"/>
<line x1="226" y1="2768.8" x2="2216" y2="2768.8" stroke="#000" stroke-width="3"/>
<line x1="225" y1="2632.0" x2="2216" y2="2632.0" stroke="#000" stroke-width="2" stroke-dasharray="6 3.2"/>
<line x1="226" y1="2632.0" x2="239.5" y2="2632.0" stroke="#000" stroke-width="2.8"/>
<line x1="2202.5" y1="2632.0" x2="2216" y2="2632.0" stroke="#000" stroke-width="2.8"/>
<line x1="226" y1="2495.2" x2="2216" y2="2495.2" stroke="#000" stroke-width="3"/>
<line x1="225" y1="2358.4" x2="2216" y2="2358.4" stroke="#000" stroke-width="2" stroke-dasharray="6 3.2"/>
<line x1="226" y1="2358.4" x2="239.5" y2="2358.4" stroke="#000" stroke-width="2.8"/>
<line x1="2202.5" y1="2358.4" x2="2216" y2="2358.4" stroke="#000" stroke-width="2.8"/>
<line x1="226" y1="2221.6" x2="2216" y2="2221.6" stroke="#000" stroke-width="3"/>
<line x1="225" y1="2084.8" x2="2216" y2="2084.8" stroke="#000" stroke-width="2" stroke-dasharray="6 3.2"/>
<line x1="226" y1="2084.8" x2="239.5" y2="2084.8" stroke="#000" stroke-width="2.8"/>
<line x1="2202.5" y1="2084.8" x2="2216" y2="2084.8" stroke="#000" stroke-width="2.8"/>
<rect x="281" y="2025" width="554" height="445" fill="#ffffff"/>
<line x1="326.8" y1="1948.3" x2="326.8" y2="1962.1" stroke="#000" stroke-width="6"/>
<line x1="326.8" y1="3316.3" x2="326.8" y2="3302.5" stroke="#000" stroke-width="6"/>
<line x1="428.3" y1="1948.3" x2="428.3" y2="1975.3" stroke="#000" stroke-width="6"/>
<line x1="428.3" y1="3316.3" x2="428.3" y2="3289.3" stroke="#000" stroke-width="6"/>
<line x1="529.8" y1="1948.3" x2="529.8" y2="1962.1" stroke="#000" stroke-width="6"/>
<line x1="529.8" y1="3316.3" x2="529.8" y2="3302.5" stroke="#000" stroke-width="6"/>
<line x1="631.4" y1="1948.3" x2="631.4" y2="1975.3" stroke="#000" stroke-width="6"/>
<line x1="631.4" y1="3316.3" x2="631.4" y2="3289.3" stroke="#000" stroke-width="6"/>
<line x1="732.9" y1="1948.3" x2="732.9" y2="1962.1" stroke="#000" stroke-width="6"/>
<line x1="732.9" y1="3316.3" x2="732.9" y2="3302.5" stroke="#000" stroke-width="6"/>
<line x1="834.5" y1="1948.3" x2="834.5" y2="1975.3" stroke="#000" stroke-width="6"/>
<line x1="834.5" y1="3316.3" x2="834.5" y2="3289.3" stroke="#000" stroke-width="6"/>
<line x1="936.0" y1="1948.3" x2="936.0" y2="1962.1" stroke="#000" stroke-width="6"/>
<line x1="936.0" y1="3316.3" x2="936.0" y2="3302.5" stroke="#000" stroke-width="6"/>
<line x1="1037.6" y1="1948.3" x2="1037.6" y2="1975.3" stroke="#000" stroke-width="6"/>
<line x1="1037.6" y1="3316.3" x2="1037.6" y2="3289.3" stroke="#000" stroke-width="6"/>
<line x1="1139.1" y1="1948.3" x2="1139.1" y2="1962.1" stroke="#000" stroke-width="6"/>
<line x1="1139.1" y1="3316.3" x2="1139.1" y2="3302.5" stroke="#000" stroke-width="6"/>
<line x1="1240.7" y1="1948.3" x2="1240.7" y2="1975.3" stroke="#000" stroke-width="6"/>
<line x1="1240.7" y1="3316.3" x2="1240.7" y2="3289.3" stroke="#000" stroke-width="6"/>
<line x1="1342.2" y1="1948.3" x2="1342.2" y2="1962.1" stroke="#000" stroke-width="6"/>
<line x1="1342.2" y1="3316.3" x2="1342.2" y2="3302.5" stroke="#000" stroke-width="6"/>
<line x1="1443.8" y1="1948.3" x2="1443.8" y2="1975.3" stroke="#000" stroke-width="6"/>
<line x1="1443.8" y1="3316.3" x2="1443.8" y2="3289.3" stroke="#000" stroke-width="6"/>
<line x1="1545.3" y1="1948.3" x2="1545.3" y2="1962.1" stroke="#000" stroke-width="6"/>
<line x1="1545.3" y1="3316.3" x2="1545.3" y2="3302.5" stroke="#000" stroke-width="6"/>
<line x1="1646.9" y1="1948.3" x2="1646.9" y2="1975.3" stroke="#000" stroke-width="6"/>
<line x1="1646.9" y1="3316.3" x2="1646.9" y2="3289.3" stroke="#000" stroke-width="6"/>
<line x1="1748.5" y1="1948.3" x2="1748.5" y2="1962.1" stroke="#000" stroke-width="6"/>
<line x1="1748.5" y1="3316.3" x2="1748.5" y2="3302.5" stroke="#000" stroke-width="6"/>
<line x1="1850.0" y1="1948.3" x2="1850.0" y2="1975.3" stroke="#000" stroke-width="6"/>
<line x1="1850.0" y1="3316.3" x2="1850.0" y2="3289.3" stroke="#000" stroke-width="6"/>
<line x1="1951.5" y1="1948.3" x2="1951.5" y2="1962.1" stroke="#000" stroke-width="6"/>
<line x1="1951.5" y1="3316.3" x2="1951.5" y2="3302.5" stroke="#000" stroke-width="6"/>
<line x1="2053.1" y1="1948.3" x2="2053.1" y2="1975.3" stroke="#000" stroke-width="6"/>
<line x1="2053.1" y1="3316.3" x2="2053.1" y2="3289.3" stroke="#000" stroke-width="6"/>
<line x1="2154.6" y1="1948.3" x2="2154.6" y2="1962.1" stroke="#000" stroke-width="6"/>
<line x1="2154.6" y1="3316.3" x2="2154.6" y2="3302.5" stroke="#000" stroke-width="6"/>
<rect x="226" y="1948.3" width="1990" height="1368.0000000000002" fill="none" stroke="#000" stroke-width="6"/>
<path d="M631.4 3045.5L650.6 3065.0L631.4 3084.5L612.2 3065.0Z" fill="#000000"/>
<path d="M1139.1 3144.7L1158.3 3164.2L1139.1 3183.7L1119.9 3164.2Z" fill="#000000"/>
<path d="M1646.9 2969.5L1666.1 2989.0L1646.9 3008.5L1627.7 2989.0Z" fill="#000000"/>
<path d="M2154.6 2975.0L2173.8 2994.5L2154.6 3014.0L2135.4 2994.5Z" fill="#000000"/>
<path d="M631.4 2782.1L650.6 2801.6L631.4 2821.1L612.2 2801.6Z" fill="#00ff00"/>
<path d="M1139.1 2837.5L1158.3 2857.0L1139.1 2876.5L1119.9 2857.0Z" fill="#00ff00"/>
<path d="M1646.9 2452.4L1666.1 2471.9L1646.9 2491.4L1627.7 2471.9Z" fill="#00ff00"/>
<path d="M2154.6 2471.6L2173.8 2491.1L2154.6 2510.6L2135.4 2491.1Z" fill="#00ff00"/>
<rect x="617.9" y="2872.9" width="27.0" height="27.0" fill="#ff00ff"/>
<rect x="1125.6" y="3083.6" width="27.0" height="27.0" fill="#ff00ff"/>
<rect x="1633.4" y="2833.3" width="27.0" height="27.0" fill="#ff00ff"/>
<rect x="2141.1" y="2841.5" width="27.0" height="27.0" fill="#ff00ff"/>
<rect x="617.9" y="2682.1" width="27.0" height="27.0" fill="#808000"/>
<rect x="1125.6" y="2795.0" width="27.0" height="27.0" fill="#808000"/>
<rect x="1633.4" y="2673.2" width="27.0" height="27.0" fill="#808000"/>
<rect x="2141.1" y="2755.3" width="27.0" height="27.0" fill="#808000"/>
<path d="M631.4 2816.3L650.6 2835.8L631.4 2855.3L612.2 2835.8Z" fill="#ff0000"/>
<path d="M1139.1 2929.9L1158.3 2949.4L1139.1 2968.9L1119.9 2949.4Z" fill="#ff0000"/>
<path d="M1646.9 2596.1L1666.1 2615.6L1646.9 2635.1L1627.7 2615.6Z" fill="#ff0000"/>
<path d="M2154.6 2608.4L2173.8 2627.9L2154.6 2647.4L2135.4 2627.9Z" fill="#ff0000"/>
<path d="M631.4 2901.1L650.6 2920.6L631.4 2940.1L612.2 2920.6Z" fill="#0000ff"/>
<path d="M1139.1 3057.1L1158.3 3076.6L1139.1 3096.1L1119.9 3076.6Z" fill="#0000ff"/>
<path d="M1646.9 2780.1L1666.1 2799.6L1646.9 2819.1L1627.7 2799.6Z" fill="#0000ff"/>
<path d="M2154.6 2790.3L2173.8 2809.8L2154.6 2829.3L2135.4 2809.8Z" fill="#0000ff"/>
<text x="196" y="3332.3" text-anchor="end" font-size="54">0</text>
<text x="196" y="3058.7" text-anchor="end" font-size="54">20</text>
<text x="196" y="2785.1" text-anchor="end" font-size="54">40</text>
<text x="196" y="2511.5" text-anchor="end" font-size="54">60</text>
<text x="196" y="2237.9" text-anchor="end" font-size="54">80</text>
<text x="196" y="1964.3" text-anchor="end" font-size="54">100</text>
<text x="225.2" y="3391" text-anchor="middle" font-size="54">0</text>
<text x="428.3" y="3391" text-anchor="middle" font-size="54">10</text>
<text x="631.4" y="3391" text-anchor="middle" font-size="54">20</text>
<text x="834.5" y="3391" text-anchor="middle" font-size="54">30</text>
<text x="1037.6" y="3391" text-anchor="middle" font-size="54">40</text>
<text x="1240.7" y="3391" text-anchor="middle" font-size="54">50</text>
<text x="1443.8" y="3391" text-anchor="middle" font-size="54">60</text>
<text x="1646.9" y="3391" text-anchor="middle" font-size="54">70</text>
<text x="1850.0" y="3391" text-anchor="middle" font-size="54">80</text>
<text x="2053.1" y="3391" text-anchor="middle" font-size="54">90</text>
<path d="M1716.5 1098.3L1735.7 1117.8L1716.5 1137.3L1697.3 1117.8Z" fill="#000000"/>
<text x="1785" y="1135.7" font-size="50">TP</text>
<path d="M1716.5 1159.4L1735.7 1178.9L1716.5 1198.4L1697.3 1178.9Z" fill="#ff0000"/>
<text x="1785" y="1196.8" font-size="50">TP + 0.5 % Au</text>
<path d="M1716.5 1220.5L1735.7 1240.0L1716.5 1259.5L1697.3 1240.0Z" fill="#00ff00"/>
<text x="1785" y="1257.9" font-size="50">TP + 1 % Au</text>
<path d="M1716.5 1281.6L1735.7 1301.1L1716.5 1320.6L1697.3 1301.1Z" fill="#0000ff"/>
<text x="1785" y="1319.0" font-size="50">TP + 2 % Au</text>
<rect x="1703.0" y="1348.7" width="27.0" height="27.0" fill="#ff00ff"/>
<text x="1785" y="1380.1" font-size="50">TR</text>
<rect x="1703.0" y="1409.8" width="27.0" height="27.0" fill="#808000"/>
<text x="1785" y="1441.2" font-size="50">TR + 1 % Au</text>
<circle cx="1716.5" cy="1484.4" r="15.0" fill="#008000"/>
<text x="1785" y="1502.3" font-size="50">SiC</text>
<path d="M368.3 2050.0L387.5 2069.5L368.3 2089.0L349.1 2069.5Z" fill="#000000"/>
<text x="447" y="2090.3" font-size="58">TP</text>
<path d="M368.3 2121.9L387.5 2141.4L368.3 2160.9L349.1 2141.4Z" fill="#ff0000"/>
<text x="447" y="2162.2" font-size="58">TP + 0.5 % Au</text>
<path d="M368.3 2193.8L387.5 2213.3L368.3 2232.8L349.1 2213.3Z" fill="#00ff00"/>
<text x="447" y="2234.1" font-size="58">TP + 1 % Au</text>
<path d="M368.3 2265.7L387.5 2285.2L368.3 2304.7L349.1 2285.2Z" fill="#0000ff"/>
<text x="447" y="2306.0" font-size="58">TP + 2 % Au</text>
<rect x="354.8" y="2343.6" width="27.0" height="27.0" fill="#ff00ff"/>
<text x="447" y="2377.9" font-size="58">TR</text>
<rect x="354.8" y="2415.5" width="27.0" height="27.0" fill="#808000"/>
<text x="447" y="2449.8" font-size="58">TR + 1 % Au</text>
<text x="989" y="293" font-size="65">135 <tspan font-size="44" dy="-29">o</tspan><tspan dy="29">C</tspan></text>
<text x="1229" y="293" font-size="65">150 <tspan font-size="44" dy="-29">o</tspan><tspan dy="29">C</tspan></text>
<text x="975" y="2054" font-size="65.5">135 <tspan font-size="44" dy="-29">o</tspan><tspan dy="29">C</tspan></text>
<text x="1218" y="2054" font-size="65.5">150 <tspan font-size="44" dy="-29">o</tspan><tspan dy="29">C</tspan></text>
<text transform="translate(1215.5,1682.5) scale(1,1.07)" text-anchor="middle" font-size="65.5">Time on stream, h</text>
<text transform="translate(1234,3472.5) scale(1,1.048)" text-anchor="middle" font-size="66.5">Time on stream, h</text>
<text transform="translate(110.2,1096) rotate(-90)" font-size="66">x(glyphosate)<tspan font-size="45" dy="19">z=L</tspan><tspan dy="-19">, %</tspan></text>
<text transform="translate(100.2,2829) rotate(-90)" font-size="68">x(TOC)<tspan font-size="45" dy="19">z=L</tspan><tspan dy="-19">, %</tspan></text>
</svg>
</body></html>
